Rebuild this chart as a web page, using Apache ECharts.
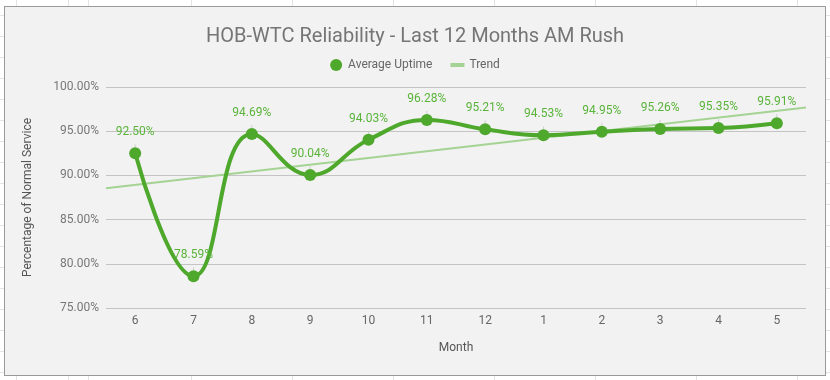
<!DOCTYPE html>
<html>
<head>
<meta charset="utf-8">
<script src="https://cdn.jsdelivr.net/npm/echarts@6/dist/echarts.min.js"></script>
<style>
html,body{margin:0;padding:0;width:830px;height:380px;overflow:hidden;background:#fff;}
#sheet{position:absolute;left:0;top:0;width:830px;height:380px;
background-image:
linear-gradient(to right, transparent 16px, #e3e3e3 16px, #e3e3e3 17px, transparent 17px),
linear-gradient(to right, transparent 88px, #e3e3e3 88px, #e3e3e3 89px, transparent 89px),
repeating-linear-gradient(to right, transparent 0px, transparent 100px, #e3e3e3 100px, #e3e3e3 101px),
repeating-linear-gradient(to bottom, transparent 0px, transparent 15px, #e3e3e3 15px, #e3e3e3 16px, transparent 16px, transparent 21px);
background-position:0 0,0 0,91px 0,0 0;
}
#panel{position:absolute;left:4px;top:6px;width:820px;height:368px;background:#f2f2f2;border:1px solid #9a9a9a;box-sizing:content-box;}
#chart{position:absolute;left:0;top:0;width:830px;height:380px;}
</style>
</head>
<body>
<div id="sheet"></div>
<div id="panel"></div>
<div id="chart"></div>
<script>
const months = ['6','7','8','9','10','11','12','1','2','3','4','5'];
const uptime = [92.50, 78.59, 94.69, 90.04, 94.03, 96.28, 95.21, 94.53, 94.95, 95.26, 95.35, 95.91];
const yTicks = [75, 80, 85, 90, 95, 100];
const titleText = 'HOB-WTC Reliability - Last 12 Months AM Rush';
const seriesNames = ['Average Uptime', 'Trend'];

// linear regression trend from data
const n = uptime.length;
const mx = (n - 1) / 2;
const my = uptime.reduce((a, b) => a + b, 0) / n;
let sxy = 0, sxx = 0;
uptime.forEach((y, i) => { sxy += (i - mx) * (y - my); sxx += (i - mx) * (i - mx); });
const slope = sxy / sxx;
const icpt = my - slope * mx;
const trend = [[-0.5, icpt + slope * -0.5], [n - 0.5, icpt + slope * (n - 0.5)]];

const green = '#4ea82c';
const chart = echarts.init(document.getElementById('chart'), null, {renderer: 'canvas'});
chart.setOption({
  backgroundColor: 'transparent',
  animation: false,
  textStyle: {fontFamily: 'Roboto'},
  title: {
    text: titleText, left: 'center', top: 22,
    textStyle: {fontFamily: 'Roboto', fontSize: 20, fontWeight: 'normal', color: '#757575'}
  },
  legend: {
    top: 54, left: 'center', itemGap: 18,
    textStyle: {fontFamily: 'Roboto', fontSize: 12, color: '#666'},
    data: [
      {name: seriesNames[0], icon: 'circle', itemStyle: {color: green}},
      {name: seriesNames[1], icon: 'path://M0,0h14v4H0z', itemStyle: {color: '#a5d394'}}
    ],
    itemWidth: 14, itemHeight: 12
  },
  grid: {left: 106, right: 24, top: 87, bottom: 72},
  xAxis: [{
    type: 'category', data: months, boundaryGap: true,
    name: 'Month', nameLocation: 'middle', nameGap: 34,
    nameTextStyle: {fontFamily: 'Roboto', fontSize: 12, color: '#555'},
    axisLine: {show: false}, axisTick: {show: false},
    axisLabel: {fontFamily: 'Roboto', fontSize: 12, color: '#666', margin: 7}
  }, {
    type: 'value', min: -0.5, max: n - 0.5, show: false
  }],
  yAxis: {
    type: 'value', min: yTicks[0], max: yTicks[yTicks.length - 1], interval: 5,
    name: 'Percentage of Normal Service', nameLocation: 'middle', nameGap: 72,
    nameTextStyle: {fontFamily: 'Roboto', fontSize: 12, color: '#555'},
    axisLine: {show: false}, axisTick: {show: false},
    axisLabel: {fontFamily: 'Roboto', fontSize: 12, color: '#777', margin: 7, formatter: v => v.toFixed(2) + '%'},
    splitLine: {lineStyle: {color: '#c4c4c4', width: 1}}
  },
  series: [{
    name: seriesNames[1], type: 'line', xAxisIndex: 1, data: trend,
    symbol: 'none', z: 1, silent: true,
    lineStyle: {color: '#a5d394', width: 2}, itemStyle: {color: '#a5d394'}
  }, {
    name: seriesNames[0], type: 'line', data: uptime, smooth: 0.45,
    symbol: 'circle', symbolSize: 12, z: 3,
    lineStyle: {color: green, width: 4}, itemStyle: {color: green},
    label: {
      show: true, position: 'top', distance: 9,
      fontFamily: 'Roboto', fontSize: 12, color: '#5ab43a',
      formatter: p => p.value.toFixed(2) + '%'
    },
    labelLine: {show: true, lineStyle: {color: '#d0d0d0', width: 1}}
  }]
});
</script>
</body>
</html>
